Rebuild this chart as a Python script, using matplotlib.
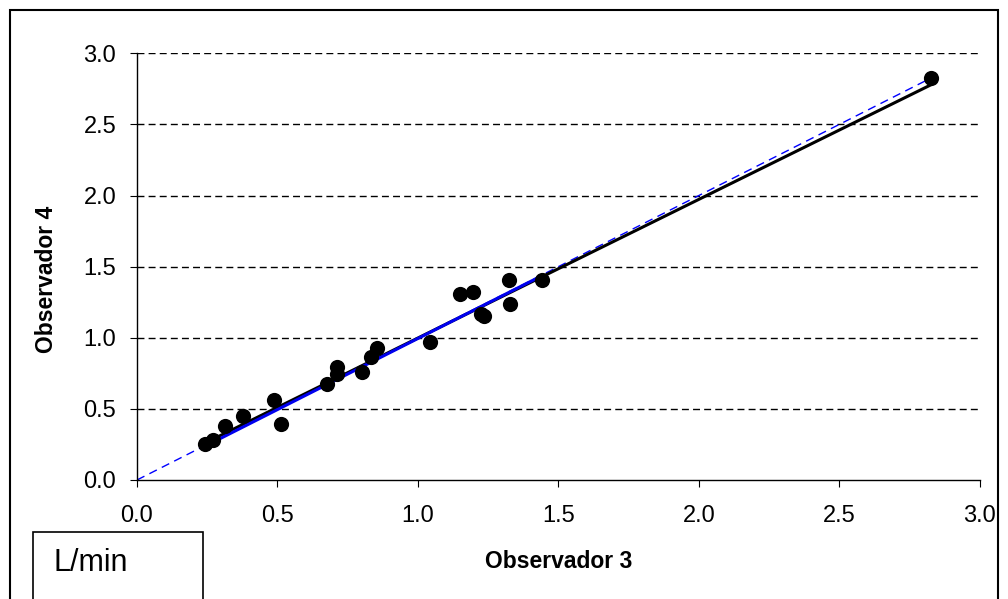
import matplotlib.pyplot as plt
import matplotlib.patches as patches
import numpy as np

plt.rcParams['font.family'] = ['Liberation Sans', 'DejaVu Sans']

# caudal medido por cada observador (L/min)
obs3 = [0.242, 0.269, 0.312, 0.376, 0.489, 0.513, 0.675, 0.711, 0.711, 0.802,
        0.832, 0.853, 1.044, 1.151, 1.196, 1.226, 1.235, 1.323, 1.329, 1.443,
        2.826]
obs4 = [0.251, 0.279, 0.382, 0.450, 0.562, 0.394, 0.675, 0.792, 0.743, 0.757,
        0.866, 0.930, 0.972, 1.309, 1.321, 1.167, 1.152, 1.403, 1.237, 1.403,
        2.823]

# rectas de ajuste: todas las medidas (negra) y sin el valor extremo (azul)
fit_all = (0.975, 0.023)
fit_sub = (1.0, -0.005)

ticks = [0.0, 0.5, 1.0, 1.5, 2.0, 2.5, 3.0]

fig = plt.figure(figsize=(10.08, 5.99), dpi=100)
ax = fig.add_axes([0.1359, 0.1987, 0.972 - 0.1359, 0.911 - 0.1987])

for t in ticks[1:]:
    ax.axhline(t, color='black', lw=1, ls=(0, (5, 3)), zorder=1)

ax.plot([0, 2.83], [0, 2.83], color='blue', lw=1, ls=(0, (6, 4)), zorder=2)
xa = np.array([min(obs3), max(obs3)])
ax.plot(xa, fit_all[0] * xa + fit_all[1], color='black', lw=2.2, zorder=3)
xs = np.array([min(obs3), max(obs3[:-1])])
ax.plot(xs, fit_sub[0] * xs + fit_sub[1], color='#0000ee', lw=2.2, zorder=3)
ax.scatter(obs3, obs4, s=120, color='black', zorder=4, linewidths=0)

ax.set_xlim(0, 3)
ax.set_ylim(0, 3)
ax.set_xticks(ticks)
ax.set_yticks(ticks)
ax.set_xticklabels([f'{t:.1f}' for t in ticks], fontsize=17)
ax.set_yticklabels([f'{t:.1f}' for t in ticks], fontsize=17)
ax.tick_params(direction='out', length=5, width=0.8, color='black')
ax.tick_params(axis='x', pad=13)
ax.tick_params(axis='y', pad=10)
for s in ['top', 'right']:
    ax.spines[s].set_visible(False)
for s in ['left', 'bottom']:
    ax.spines[s].set_linewidth(1.0)

fig.text(0.5545, 1 - 561 / 599, 'Observador 3', fontsize=16.5, fontweight='bold',
         ha='center', va='center')
fig.text(47 / 1008, 1 - 279 / 599, 'Observador 4', fontsize=16.5, fontweight='bold',
         rotation=90, ha='center', va='center')

# marco exterior y recuadro de unidades
fig.patches.append(patches.Rectangle((10 / 1008, -0.05), 988 / 1008, 1.05 - 10 / 599,
                                     transform=fig.transFigure, fill=False,
                                     lw=1.5, ec='black'))
fig.patches.append(patches.Rectangle((33 / 1008, -0.05), 170 / 1008, 0.05 + 67 / 599,
                                     transform=fig.transFigure, fill=False,
                                     lw=1.2, ec='black'))
fig.text(54 / 1008, 1 - 563 / 599, 'L/min', fontsize=22, ha='left', va='center')

fig.savefig('out.png', dpi=100)
